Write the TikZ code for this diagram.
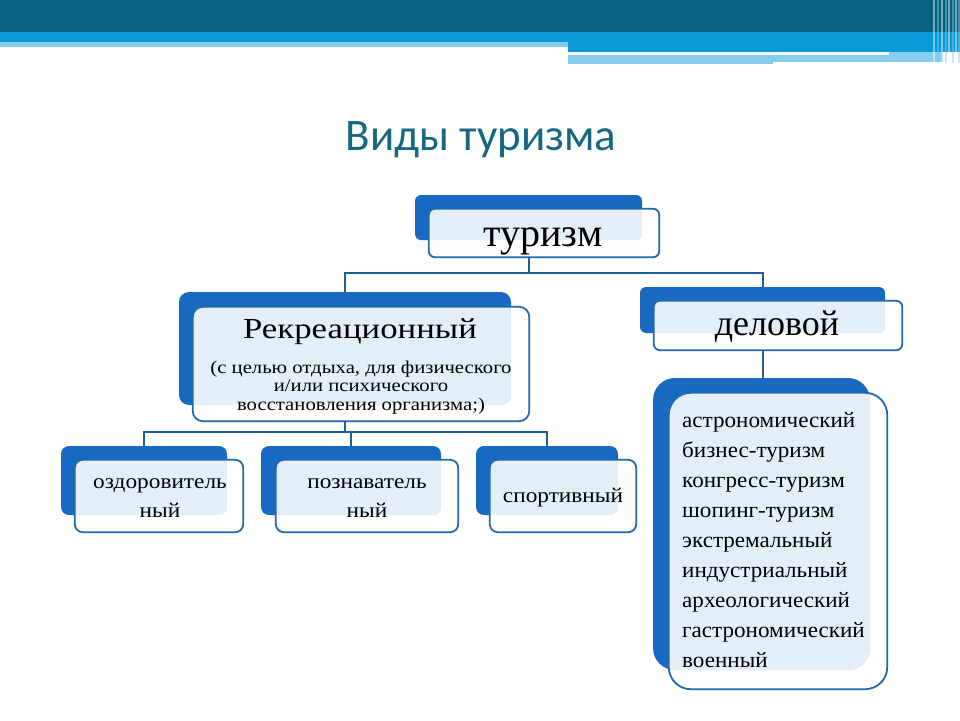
\documentclass[tikz,border=0pt]{standalone}
\usepackage{fontspec}
\setmainfont{Liberation Serif}
\newfontfamily\titlefont{Carlito}
\newfontfamily\serA{Liberation Serif}[FakeStretch=1.2]
\newfontfamily\serB{Liberation Serif}[FakeStretch=1.15]
\newfontfamily\serC{Liberation Serif}[FakeStretch=1.11]
\newfontfamily\serD{Liberation Serif}[FakeStretch=1.05]
\usetikzlibrary{fit,calc}
\definecolor{darkband}{RGB}{5,97,126}
\definecolor{brightband}{RGB}{10,155,214}
\definecolor{lightband}{RGB}{134,204,236}
\definecolor{blueback}{RGB}{23,105,193}
\definecolor{lightfill}{RGB}{228,238,248}
\definecolor{frontC}{RGB}{36,105,170}
\definecolor{connC}{RGB}{30,95,150}
\definecolor{titleC}{RGB}{23,103,130}
\tikzset{
  backbox/.style={fill=blueback, draw=none, inner sep=0pt},
  frontbox/.style={fill=white, draw=none, inner sep=0pt},
  frontborder/.style={draw=frontC, line width=1.8pt},
  conn/.style={draw=connC, line width=2pt},
  big/.style={font=\fontsize{40}{44}\selectfont, inner sep=0pt, anchor=base},
  mid/.style={font=\serA\fontsize{29}{32}\selectfont, inner sep=0pt, anchor=base},
  sub/.style={font=\serB\fontsize{18}{20}\selectfont, inner sep=0pt, anchor=base},
  small/.style={font=\serC\fontsize{21}{24}\selectfont, inner sep=0pt, anchor=base},
  listtxt/.style={font=\serD\fontsize{22}{24}\selectfont, inner sep=0pt, anchor=base west},
}
\newcommand\twobox[4]{%
  \node[backbox, rounded corners=#4, fit={#2}] (#1B) {};
  \node[frontbox, rounded corners=#4, fit={#3}] (#1) {};
  \begin{scope}
    \clip[rounded corners=#4] (#1.north west) rectangle (#1.south east);
    \fill[lightfill, rounded corners=#4] (#1B.north west) rectangle (#1B.south east);
  \end{scope}
  \draw[frontborder, rounded corners=#4] (#1.north west) rectangle (#1.south east);
}
\begin{document}
\begin{tikzpicture}[x=1pt, y=-1pt]
\useasboundingbox (0,0) rectangle (960,720);
\fill[white] (0,0) rectangle (960,720);
% top bands
\fill[darkband] (0,0) rectangle (960,32);
\fill[brightband] (0,32) rectangle (960,42);
\fill[lightband] (0,42) rectangle (568,47);
\fill[brightband] (568,42) rectangle (960,52);
\fill[lightband] (568,52) rectangle (943,62);
\fill[lightband] (568,62) rectangle (773,64);
\fill[white!90!lightband] (568,52) rectangle (889,55);
% right stripes
\foreach \xx/\cc in {933/white, 937/lightband, 941/white, 945/lightband, 948/white, 952/lightband, 955/white, 958/lightband}{
  \fill[\cc, opacity=0.45] (\xx,0) rectangle ++(1.6,63);
}
% title
\node[font=\titlefont\fontsize{45}{49}\selectfont, text=titleC, inner sep=0pt, anchor=base] (title) at (481,150) {Виды туризма};
% boxes
\twobox{tur}{(415,195) (642,240)}{(429,209) (659,257)}{6pt}
\twobox{rec}{(179,292) (511,405)}{(193,307) (529,421)}{10pt}
\twobox{del}{(640,287) (885,333)}{(654,301) (902,350)}{6pt}
\twobox{sa}{(61,446) (227,515)}{(75,460) (243,532)}{8pt}
\twobox{sb}{(261,446) (441,515)}{(276,460) (458,532)}{8pt}
\twobox{sc}{(476,446) (618,515)}{(490,460) (636,532)}{8pt}
\twobox{lst}{(653,378) (870,670)}{(669,393) (887,689)}{22pt}
% connectors
\coordinate (j1) at ($(turB.south |- tur.south)+(0,16)$);
\draw[conn] (turB.south |- tur.south) -- (j1) -| (recB.north);
\draw[conn] (j1) -| (delB.north);
\coordinate (j2) at ($(recB.south |- rec.south)+(0,11)$);
\draw[conn] (recB.south |- rec.south) -- (j2);
\draw[conn] (j2) -| (saB.north);
\draw[conn] (j2) -| (sbB.north);
\draw[conn] (j2) -| (scB.north);
\draw[conn] (delB.south |- del.south) -- (delB.south |- lstB.north);
% texts
\node[big] (turT) at (543,246) {туризм};
\node[mid] (recT) at (360,338) {Рекреационный};
\node[sub] (recS1) at (361,373) {(с целью отдыха, для физического};
\node[sub] (recS2) at (361,391) {и/или психического};
\node[sub] (recS3) at (361,410) {восстановления организма;)};
\node[big, font=\fontsize{36}{40}\selectfont] (delT) at (777,335) {деловой};
\node[small] (saT1) at (160,488) {оздоровитель};
\node[small] (saT2) at (160,517) {ный};
\node[small] (sbT1) at (367,488) {познаватель};
\node[small] (sbT2) at (367,517) {ный};
\node[small] (scT) at (563,502) {спортивный};
\foreach \t [count=\i] in {астрономический, бизнес-туризм, конгресс-туризм, шопинг-туризм, экстремальный, индустриальный, археологический, гастрономический, военный}{
  \node[listtxt] (li\i) at (682,397+30.1*\i) {\t};
}
\end{tikzpicture}
\end{document}
